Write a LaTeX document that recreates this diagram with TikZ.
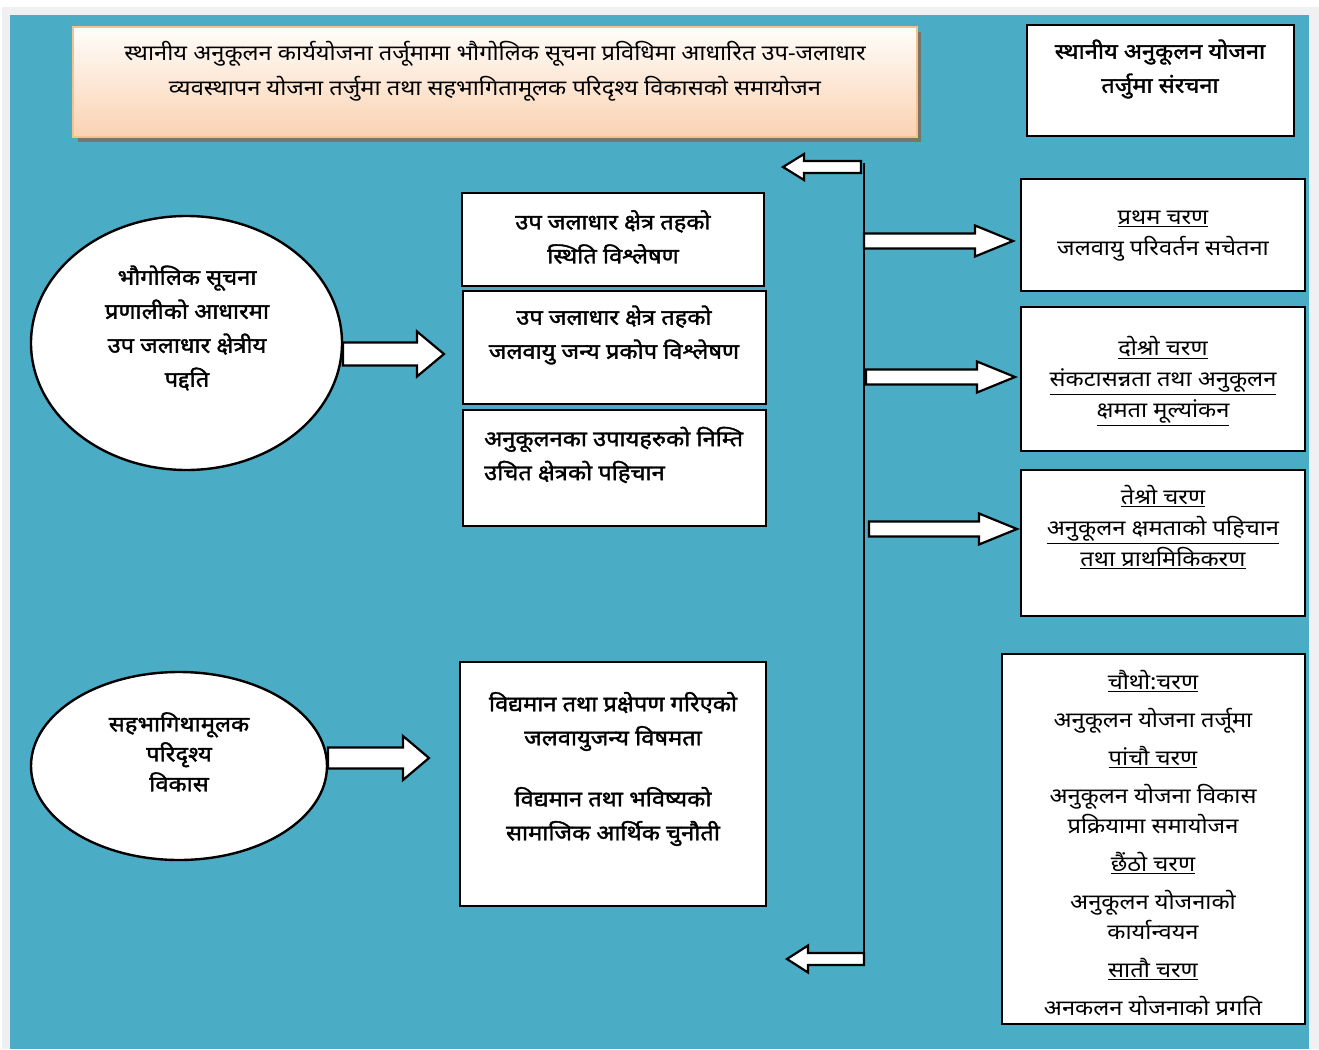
\documentclass[tikz,border=0pt]{standalone}
\usepackage{fontspec}
\newfontfamily\dev[Script=Devanagari, FakeStretch=1.1]{Noto Sans}
\newfontfamily\devb[Script=Devanagari, FakeStretch=1.1, FakeBold=1.6]{Noto Sans}
\usetikzlibrary{calc,shapes.geometric}
\definecolor{bgteal}{HTML}{4BACC6}
\definecolor{framegray}{HTML}{F0F0F2}
\definecolor{peachtop}{HTML}{FFFDFA}
\definecolor{peachbot}{HTML}{FAD2B2}
\definecolor{peachline}{HTML}{F7C08F}
\definecolor{shadowol}{HTML}{76766A}
\newcommand\BlkArrow[5]{%
  \draw[blk] let \p1=(#1), \p2=(#2), \p3=($(#2)!#5!(#1)$) in
    (\x1,\y1+#3) -- (\x3,\y1+#3) -- (\x3,\y1+#4) -- (\x2,\y2) --
    (\x3,\y1-#4) -- (\x3,\y1-#3) -- (\x1,\y1-#3) -- cycle;}
\newcommand\FSet[2]{\fontsize{#1}{#2}\selectfont\lineskiplimit=-60pt\lineskip=0pt}
\tikzset{
  blk/.style={draw=black, line width=2.2pt, fill=white, line join=miter},
  boxx/.style={draw=black, line width=2.6pt, fill=white, rectangle, inner sep=0pt},
  ell/.style={draw=black, line width=2.4pt, fill=white, ellipse, inner sep=0pt},
  bold/.style={align=center, font=\devb\FSet{21.5}{34}, inner sep=0pt},
  regtxt/.style={align=center, font=\dev\FSet{21.5}{31}, inner sep=0pt},
  titletxt/.style={align=center, font=\dev\FSet{21.5}{35}, inner sep=0pt},
}
\begin{document}
\begin{tikzpicture}[x=1pt,y=-1pt]
\useasboundingbox (0,0) rectangle (1319,1049);
\fill[white] (0,0) rectangle (1319,1049);
\fill[framegray] (2,7) rectangle (1319,1049);
\fill[bgteal] (10,15) rectangle (1309,1049);

% title
\fill[shadowol] (78,32) rectangle (921,142);
\node[rectangle, draw=peachline, line width=1.5pt, top color=peachtop, bottom color=peachbot,
  minimum width=844pt, minimum height=110pt, inner sep=0pt] (title) at (495,82) {};
\node[titletxt] (titlet) at (495,71) {स्थानीय अनुकूलन कार्ययोजना तर्जूमामा भौगोलिक सूचना प्रविधिमा आधारित उप-जलाधार\\व्यवस्थापन योजना तर्जुमा तथा सहभागितामूलक परिदृश्य विकासको समायोजन};

% top right box
\node[boxx, minimum width=267pt, minimum height=111pt] (struct) at (1160.5,80.5) {};
\node[bold] (structt) at (1160,69) {स्थानीय अनुकूलन योजना\\तर्जुमा संरचना};

% ellipses
\node[ell, minimum width=311pt, minimum height=254pt] (ell1) at (186.5,343) {};
\node[bold] (ell1t) at (187,328) {भौगोलिक सूचना\\प्रणालीको आधारमा\\उप जलाधार क्षेत्रीय\\पद्दति};
\node[ell, minimum width=296pt, minimum height=188pt] (ell2) at (179,766) {};
\node[bold, font=\devb\FSet{21.5}{30}] (ell2t) at (179,752) {सहभागिथामूलक\\परिदृश्य\\विकास};

% middle boxes
\node[boxx, minimum width=302pt, minimum height=93pt] (mA) at (613,239.5) {};
\node[bold] (mAt) at (613,237) {उप जलाधार क्षेत्र तहको\\स्थिति विश्लेषण};
\node[boxx, minimum width=303pt, minimum height=113pt] (mB) at (614.5,347.5) {};
\node[bold] (mBt) at (614,335) {उप जलाधार क्षेत्र तहको\\जलवायु जन्य प्रकोप विश्लेषण};
\node[boxx, minimum width=303pt, minimum height=116pt] (mC) at (614.5,468) {};
\node[bold, align=left, anchor=west] (mCt) at (484,455) {अनुकूलनका उपायहरुको निम्ति\\उचित क्षेत्रको पहिचान};
\node[boxx, minimum width=306pt, minimum height=244pt] (mD) at (613,784) {};
\node[bold] (mDt) at (613,769) {विद्यमान तथा प्रक्षेपण गरिएको\\जलवायुजन्य विषमता\\[27pt]विद्यमान तथा भविष्यको\\सामाजिक आर्थिक चुनौती};

% right boxes
\node[boxx, minimum width=284pt, minimum height=112pt] (r1) at (1163,235) {};
\node[regtxt] (r1t) at (1163,236) {\underline{प्रथम चरण}\\जलवायु परिवर्तन सचेतना};
\node[boxx, minimum width=284pt, minimum height=144pt] (r2) at (1163,379) {};
\node[regtxt] (r2t) at (1163,381) {\underline{दोश्रो चरण}\\\underline{संकटासन्नता तथा अनुकूलन}\\\underline{क्षमता मूल्यांकन}};
\node[boxx, minimum width=284pt, minimum height=146pt] (r3) at (1163,543) {};
\node[regtxt] (r3t) at (1163,527) {\underline{तेश्रो चरण}\\\underline{अनुकूलन क्षमताको पहिचान}\\\underline{तथा प्राथमिकिकरण}};
\node[boxx, minimum width=303pt, minimum height=370pt] (r4) at (1153.5,839) {};
\node[regtxt, font=\dev\FSet{21.5}{30}] (r4t) at (1153,843) {\underline{चौथो:चरण}\\[8pt]अनुकूलन योजना तर्जूमा\\[8pt]\underline{पांचौ चरण}\\[8pt]अनुकूलन योजना विकास\\प्रक्रियामा समायोजन\\[8pt]\underline{छैंठो चरण}\\[8pt]अनुकूलन योजनाको\\कार्यान्वयन\\[8pt]\underline{सातौ चरण}\\[8pt]अनकलन योजनाको प्रगति};

% spine
\coordinate (vtop) at (864,163);
\coordinate (vbot) at (864,965);
\draw[line width=2.4pt] (vtop) -- (vbot);

% arrows
\coordinate (a1s) at (343,354);  \coordinate (a1e) at (444,354);
\coordinate (a2s) at (328,758);  \coordinate (a2e) at (429,758);
\coordinate (lts) at (861,167);  \coordinate (lte) at (783,167);
\coordinate (lbs) at (864,959);  \coordinate (lbe) at (787,959);
\coordinate (r1s) at (864,241);  \coordinate (r1e) at (1013,241);
\coordinate (r2s) at (866,377);  \coordinate (r2e) at (1015,377);
\coordinate (r3s) at (869,529);  \coordinate (r3e) at (1017,529);
\BlkArrow{a1s}{a1e}{11.5pt}{22.5pt}{27pt}
\BlkArrow{a2s}{a2e}{10.5pt}{22pt}{26pt}
\BlkArrow{lts}{lte}{6pt}{13pt}{21pt}
\BlkArrow{lbs}{lbe}{6pt}{13.5pt}{21pt}
\BlkArrow{r1s}{r1e}{7.5pt}{15.5pt}{38pt}
\BlkArrow{r2s}{r2e}{7.5pt}{15.5pt}{38pt}
\BlkArrow{r3s}{r3e}{7.5pt}{15.5pt}{38pt}
\end{tikzpicture}
\end{document}
